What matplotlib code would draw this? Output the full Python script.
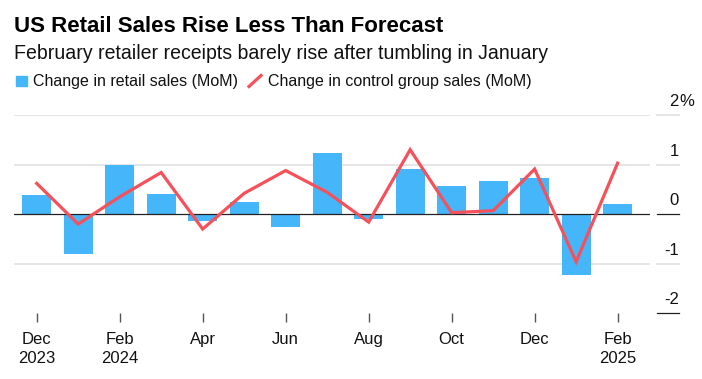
import numpy as np
import matplotlib.pyplot as plt
from matplotlib.transforms import blended_transform_factory
from matplotlib.lines import Line2D
from matplotlib.patches import Rectangle

plt.rcParams['font.family'] = ['Liberation Sans', 'DejaVu Sans']

# monthly changes, Dec 2023 .. Feb 2025 (%)
months = ['Dec', 'Jan', 'Feb', 'Mar', 'Apr', 'May', 'Jun', 'Jul',
          'Aug', 'Sep', 'Oct', 'Nov', 'Dec', 'Jan', 'Feb']
retail_sales = [0.39, -0.81, 0.99, 0.41, -0.14, 0.24, -0.26, 1.23,
                -0.10, 0.91, 0.57, 0.67, 0.73, -1.22, 0.21]
control_group = [0.62, -0.20, 0.35, 0.84, -0.30, 0.42, 0.88, 0.44,
                 -0.16, 1.30, 0.03, 0.07, 0.91, -0.96, 1.03]
tick_labels = ['Dec\n2023', 'Feb\n2024', 'Apr', 'Jun', 'Aug', 'Oct', 'Dec', 'Feb\n2025']
y_ticks = [2, 1, 0, -1, -2]

BLUE = '#46b6fa'
RED = '#f4515b'
GRID = '#e0e0e0'

W, H = 702, 379
fig = plt.figure(figsize=(W / 100, H / 100), dpi=100)

def fx(px):
    return px / W

def fy(py):
    return 1 - py / H

ax = fig.add_axes([fx(14), fy(313.3), fx(650) - fx(14), fy(115) - fy(313.3)])

x = np.arange(len(months))
ax.bar(x, retail_sales, width=0.70, color=BLUE, zorder=2)
ax.plot(x, control_group, color=RED, lw=2.3, solid_joinstyle='miter', zorder=4)

for v in [2, 1, -1]:
    ax.axhline(v, color=GRID, lw=1.2, zorder=1)
ax.axhline(0, color='#222222', lw=0.9, zorder=3)

ax.set_xlim(-0.547, 14.78)
ax.set_ylim(-2, 2)
for s in ax.spines.values():
    s.set_visible(False)
ax.set_yticks([])
ax.set_xticks(x[::2])
ax.set_xticklabels(tick_labels, fontsize=12, color='#111111', linespacing=1.3)
ax.tick_params(axis='x', length=6.5, width=1, color='#555555', pad=7)

# right-hand value labels with short guide segments
tr = blended_transform_factory(fig.transFigure, ax.transData)
for v in y_ticks:
    c = '#222222' if v in (0, -2) else GRID
    ax.add_line(Line2D([fx(657), fx(678.7)], [v, v], transform=tr, color=c,
                       lw=1.2 if c == GRID else 0.9, clip_on=False))
    ax.text(fx(678.7), v + 0.18, str(v), transform=tr, ha='right', va='baseline',
            fontsize=12, color='#111111')
ax.text(fx(679.5), 2 + 0.18, '%', transform=tr, ha='left', va='baseline',
        fontsize=12, color='#111111')

# title block
fig.text(fx(14.5), fy(31.7), 'US Retail Sales Rise Less Than Forecast',
         fontsize=16, fontweight='bold', va='baseline', color='#000000')
fig.text(fx(14.5), fy(59.3),
         'February retailer receipts barely rise after tumbling in January',
         fontsize=14.05, va='baseline', color='#111111')

# legend
fig.add_artist(Rectangle((fx(16), fy(86)), fx(10.7), fy(76) - fy(86),
                         transform=fig.transFigure, color=BLUE))
fig.text(fx(33.3), fy(86), 'Change in retail sales (MoM)', fontsize=11.5,
         va='baseline', color='#111111')
fig.add_artist(Line2D([fx(249), fx(261)], [fy(86.5), fy(75.5)],
                      transform=fig.transFigure, color=RED, lw=2.3))
fig.text(fx(268), fy(86), 'Change in control group sales (MoM)', fontsize=11.5,
         va='baseline', color='#111111')

fig.savefig('out.png', dpi=100)
